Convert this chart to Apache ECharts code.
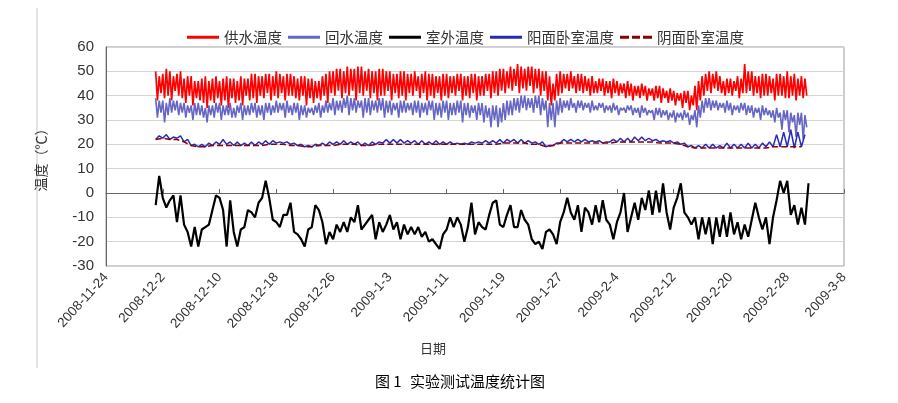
<!DOCTYPE html>
<html><head><meta charset="utf-8">
<script src="https://cdn.jsdelivr.net/npm/echarts@6/dist/echarts.min.js"></script>
<style>html,body{margin:0;padding:0;background:#fff}#c{width:898px;height:403px}</style>
</head><body><div id="c"></div>
<script>
// x values are days after 2008-11-24; data start 2008-12-1
const baseDate = [2008, 10, 24];
const startDay = 7;
const seriesNames = ['供水温度', '回水温度', '室外温度', '阳面卧室温度', '阴面卧室温度'];
const yTicks = [-30, -20, -10, 0, 10, 20, 30, 40, 50, 60];

// four readings per day
const supplyTemp = [
50,38,48,41, 49,39,51,40, 50,38,48,42, 49,40,50,39, 47,37,48,40, 48,36,46,39, 46,38,47,37, 48,35,46,38, 47,37,48,39, 46,36,47,38,
48,35,47,39, 47,37,46,38, 48,36,47,40, 47,38,49,39, 49,37,48,40, 48,39,49,41, 49,38,48,40, 50,39,49,41, 48,38,49,40, 49,40,48,39,
47,38,48,40, 48,36,47,39, 47,37,46,39, 46,38,48,40, 49,37,50,41, 50,40,51,42, 51,39,50,41, 52,40,51,42, 51,38,52,41, 52,40,50,42,
51,39,50,41, 50,38,51,40, 51,40,50,42, 50,38,49,41, 49,39,50,40, 50,38,49,41, 49,40,50,42, 48,39,49,41, 50,38,49,40, 49,39,48,41,
48,38,49,40, 49,39,48,41, 48,40,49,42, 49,38,48,40, 48,39,49,41, 49,38,48,40, 48,40,49,42, 49,39,50,41, 50,40,51,42, 51,41,50,43,
52,42,51,44, 53,41,52,43, 51,42,52,44, 52,41,51,43, 51,40,50,42, 50,38,48,36, 45,38,49,40, 50,41,49,43, 49,42,50,43, 48,41,49,42,
49,41,48,42, 47,40,48,41, 46,41,47,42, 47,40,46,41, 46,39,47,41, 46,40,45,41, 45,39,46,40, 45,38,44,40, 44,39,45,40, 44,38,43,40,
43,38,44,39, 44,37,43,39, 42,37,43,38, 42,36,41,38, 41,35,42,37, 42,34,40,36, 44,34,46,38, 48,40,49,42, 50,41,49,43, 50,42,48,41,
46,40,47,41, 47,40,46,42, 48,39,47,41, 53,41,50,42, 50,40,48,41, 48,39,49,40, 49,40,48,41, 47,38,49,40, 49,40,48,39, 50,39,48,40,
49,38,47,40, 48,39,47,40
];
const returnTemp = [
39,31,38,33, 38,29,37,32, 39,33,38,34, 38,32,37,33, 37,31,36,33, 36,30,37,32, 37,32,36,31, 35,29,36,32, 36,31,37,33, 37,30,36,32,
36,32,37,31, 35,31,36,33, 37,30,36,32, 36,32,37,33, 37,31,36,32, 36,30,37,33, 37,32,36,33, 38,33,37,34, 37,31,38,33, 36,32,37,33,
37,30,36,32, 36,31,35,33, 35,32,36,33, 37,31,36,33, 38,33,37,34, 39,32,38,34, 38,33,39,35, 40,32,39,34, 39,33,38,35, 38,31,39,33,
39,32,38,34, 38,33,39,34, 39,31,38,33, 38,32,37,34, 37,31,38,33, 38,33,37,34, 37,32,38,33, 38,31,37,33, 37,32,38,34, 38,30,37,32,
37,31,38,33, 38,30,37,32, 37,32,38,33, 38,29,37,32, 37,31,36,33, 36,30,37,32, 37,29,36,31, 35,27,36,30, 36,27,35,29, 37,30,38,32,
38,32,39,34, 39,33,40,35, 40,34,39,35, 39,33,40,35, 40,32,39,34, 38,27,37,30, 37,27,38,32, 39,33,38,35, 38,34,39,35, 37,33,38,35,
38,34,37,35, 37,33,38,34, 36,34,37,35, 37,33,36,34, 36,33,37,34, 36,32,35,34, 35,33,36,34, 36,32,35,33, 35,31,36,33, 35,32,34,33,
34,30,35,32, 35,31,34,32, 34,30,33,31, 34,29,33,31, 33,30,34,31, 33,28,32,30, 34,27,36,31, 38,33,39,35, 39,34,38,35, 38,34,37,35,
37,33,38,34, 37,32,36,34, 36,33,37,34, 37,32,36,33, 36,31,35,33, 35,30,36,32, 35,32,34,31, 34,29,35,31, 33,26,34,30, 34,25,33,29,
32,23,33,28, 33,22,32,27
];
// two readings per day
const outdoorTemp = [
-5, 7, -2, -6, -3, -1, -12, -1, -13, -16,
-22, -14, -22, -15, -14, -13, -7, -1, -2, -7,
-22, -3, -16, -22, -15, -14, -7, -8, -10, -4,
-2, 5, -2, -11, -12, -14, -9, -9, -4, -16,
-17, -19, -22, -15, -14, -5, -7, -12, -21, -16,
-19, -13, -16, -12, -16, -10, -12, -5, -15, -13,
-11, -9, -19, -12, -16, -13, -9, -15, -12, -19,
-13, -17, -14, -17, -14, -18, -16, -20, -19, -21,
-23, -17, -15, -10, -14, -10, -13, -20, -14, -4,
-17, -12, -14, -15, -9, -4, -3, -13, -14, -9,
-5, -14, -14, -7, -11, -13, -19, -21, -20, -23,
-16, -15, -17, -21, -12, -8, -2, -8, -11, -5,
-16, -6, -8, -13, -5, -12, -3, -11, -13, -19,
-12, -8, 0, -16, -10, -4, -11, -2, -7, 1,
-9, 1, -8, 4, -8, -15, -6, -2, 4, -8,
-10, -13, -10, -19, -10, -17, -10, -21, -10, -18,
-9, -18, -8, -17, -12, -19, -13, -18, -11, -4,
-10, -15, -10, -21, -10, -3, 5, 0, 5, -9,
-5, -13, -6, -13, 4
];
const sunRoomTemp = [
22,23.5, 22.5,24, 22,23, 22.5,23.5, 21,22, 19.5,20, 19,20, 19,20.5, 19.5,21, 20,22,
20,21, 19.5,21, 19.5,20.5, 19.5,21, 19.5,21, 20,21.5, 20,21.5, 20.5,21, 20.5,21, 20,20.5,
19.5,20, 19,19.5, 19,20, 19.5,20.5, 19.5,21, 20,21, 20,21.5, 20,21, 20,21, 19.5,20.5,
19.5,21, 20,21, 20.5,22, 20.5,22, 20.5,22, 20.5,21.5, 20.5,21.5, 20,21.5, 20,21, 20,21.5,
20,21, 20,21, 20,20.5, 20,20.5, 20,21, 20.5,21, 20.5,21.5, 20.5,21.5, 20.5,22, 20.5,22,
21,22, 20.5,22, 20.5,21.5, 20.5,21, 20,21, 19,19.5, 19.5,20.5, 20.5,22, 21,22, 21,22,
21,22, 21,21.5, 21,21.5, 20.5,21, 21,22, 21,22.5, 21,22.5, 21,23, 21.5,23, 21.5,22.5,
21.5,22, 21,21.5, 21,21.5, 20.5,21, 20,20.5, 19,19.5, 18.5,19.5, 18.5,20, 18.5,20, 18.5,19.5,
18.5,20.5, 18.5,20, 18.5,20, 18.5,20.5, 18.5,20, 18.5,20.5, 19,21, 19,24, 19,25, 19,26,
18.5,25, 19,24
];
// one reading per day
const shadeRoomTemp = [
22, 22.5, 22, 22, 21, 19.5, 19, 19, 19.5, 19.5,
19.5, 19.5, 19.5, 19.5, 19.5, 19.5, 20, 20, 20, 19.5,
19.5, 19, 19, 19.5, 19.5, 19.5, 20, 20, 20, 19.5,
19.5, 20, 20, 20, 20, 20, 20, 20, 20, 20,
20, 20, 20, 20, 20, 20, 20, 20, 20, 20.5,
20.5, 20.5, 20.5, 20, 20, 19, 19.5, 20.5, 20.5, 20.5,
20.5, 20.5, 20.5, 20.5, 20.5, 21, 21, 21, 21, 21,
21, 20.5, 20.5, 20.5, 20, 19, 18.5, 18.5, 18.5, 18.5,
18.5, 18.5, 18.5, 18.5, 18.5, 18.5, 18.5, 19, 19, 19,
19, 19
];

function toXY(arr, step) { return arr.map((v, i) => [startDay + i * step, v]); }
function dayLabel(v) {
  const d = new Date(baseDate[0], baseDate[1], baseDate[2] + Math.round(v));
  return d.getFullYear() + '-' + (d.getMonth() + 1) + '-' + d.getDate();
}

const chart = echarts.init(document.getElementById('c'));
const numFont = 'Liberation Sans, Arial, sans-serif';
const cjkFont = 'Noto Sans CJK SC, sans-serif';
const dashIcon = 'path://M0,0h9v3h-9zM12,0h8v3h-8zM23,0h9v3h-9z';
chart.setOption({
  animation: false,
  backgroundColor: '#fff',
  legend: {
    left: 182, top: 25, itemWidth: 32, itemHeight: 3, itemGap: 6,
    textStyle: { fontSize: 14.5, color: '#333', fontFamily: cjkFont },
    data: [
      { name: seriesNames[0], icon: 'rect' },
      { name: seriesNames[1], icon: 'rect' },
      { name: seriesNames[2], icon: 'rect' },
      { name: seriesNames[3], icon: 'rect' },
      { name: seriesNames[4], icon: dashIcon }
    ]
  },
  grid: { left: 106, right: 54, top: 47, bottom: 137, show: true, borderColor: '#9a9a9a', borderWidth: 1 },
  xAxis: {
    type: 'value', min: 0, max: 104, interval: 8,
    axisLine: { show: true, lineStyle: { color: '#666' } },
    axisTick: { show: true, inside: true, length: 4, lineStyle: { color: '#666' } },
    splitLine: { show: false },
    axisLabel: { rotate: 48, fontSize: 13.5, color: '#333', fontFamily: numFont, margin: 9, formatter: dayLabel, showMaxLabel: true, showMinLabel: true }
  },
  yAxis: {
    type: 'value', min: yTicks[0], max: yTicks[yTicks.length - 1], interval: 10,
    name: '温度（℃）', nameLocation: 'middle', nameGap: 58, nameRotate: 90,
    nameTextStyle: { fontSize: 14, color: '#333', fontFamily: cjkFont },
    axisLine: { show: true, lineStyle: { color: '#666' } },
    axisTick: { show: false },
    splitLine: { show: true, lineStyle: { color: '#d4d4d4' } },
    axisLabel: { fontSize: 15, color: '#333', fontFamily: numFont, margin: 12 }
  },
  graphic: [
    { type: 'line', shape: { x1: 37, y1: 8, x2: 37, y2: 368 }, style: { stroke: '#dfe6df', lineWidth: 2 } },
    { type: 'text', left: 420, top: 342, style: { text: '日期', fontSize: 13, fill: '#333', fontFamily: cjkFont } },
    { type: 'text', left: 375, top: 374, style: { text: '图 1', fontSize: 15, fill: '#000', fontFamily: cjkFont } },
    { type: 'text', left: 410, top: 374, style: { text: '实验测试温度统计图', fontSize: 15, fill: '#000', fontFamily: cjkFont } }
  ],
  series: [
    { name: seriesNames[0], type: 'line', symbol: 'none', data: toXY(supplyTemp, 0.25), lineStyle: { color: '#ff0000', width: 1.7 }, itemStyle: { color: '#ff0000' } },
    { name: seriesNames[1], type: 'line', symbol: 'none', data: toXY(returnTemp, 0.25), lineStyle: { color: '#6666c4', width: 1.6 }, itemStyle: { color: '#6666c4' } },
    { name: seriesNames[2], type: 'line', symbol: 'none', data: toXY(outdoorTemp, 0.5), lineStyle: { color: '#000000', width: 2.2 }, itemStyle: { color: '#000' } },
    { name: seriesNames[3], type: 'line', symbol: 'none', data: toXY(sunRoomTemp, 0.5), lineStyle: { color: '#2a2ab8', width: 1.5 }, itemStyle: { color: '#2a2ab8' } },
    { name: seriesNames[4], type: 'line', symbol: 'none', data: toXY(shadeRoomTemp, 1), lineStyle: { color: '#8b0000', width: 1.5, type: 'dashed' }, itemStyle: { color: '#8b0000' } }
  ]
});
</script></body></html>
